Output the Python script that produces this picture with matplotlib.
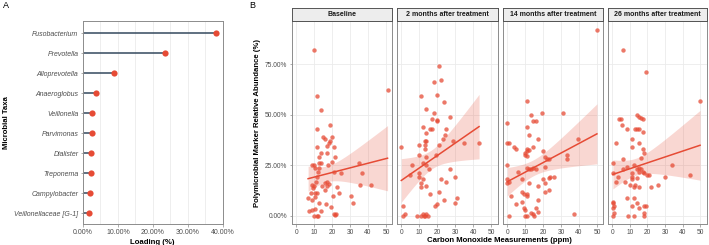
import numpy as np
import matplotlib.pyplot as plt
from matplotlib.ticker import FuncFormatter

plt.rcParams['font.family'] = ['Liberation Sans', 'DejaVu Sans']

RED = "#E64B35"
NAVY = "#34495E"
GRID = "#EBEBEB"
TXT = "#4D4D4D"

# panel A: loadings (%)
taxa = ["Fusobacterium", "Prevotella", "Alloprevotella", "Anaeroglobus", "Veillonella",
        "Parvimonas", "Dialister", "Treponema", "Campylobacter", "Veillonellaceae [G-1]"]
loading = [38.0, 23.4, 8.8, 3.6, 2.5, 2.5, 2.4, 2.3, 2.1, 1.7]

# panel B: CO (ppm) vs abundance (%) per timepoint
facet_names = ["Baseline", "2 months after treatment",
               "14 months after treatment", "26 months after treatment"]

base_co = [9.8, 50.9, 11.8, 13.8, 11.8, 18.8, 14.9, 15.9, 19.9, 18.1,
           19.0, 17.2, 11.8, 20.8, 13.8, 12.9, 17.2, 21.8, 19.7, 8.9,
           10.0, 12.7, 13.8, 17.9, 34.9, 36.9, 10.7, 12.0, 21.0, 25.1,
           11.8, 17.2, 16.2, 18.1, 11.1, 10.1, 14.6, 8.7, 35.8, 41.9,
           22.9, 9.4, 8.1, 10.7, 11.6, 15.9, 20.7, 23.8, 30.6, 31.9,
           6.6, 8.5, 10.5, 12.5, 16.8, 19.6, 7.0, 9.0, 10.3, 9.8,
           11.3, 12.0, 21.6, 21.2, 22.3, 14.0, 17.0, 12.9]
base_ab = [82.0, 62.0, 59.1, 52.1, 43.1, 45.0, 38.9, 38.1, 38.9, 36.1,
           37.1, 34.5, 34.0, 34.0, 30.9, 29.2, 30.9, 28.9, 26.7, 24.9,
           25.2, 25.9, 25.9, 24.9, 25.9, 21.0, 23.8, 21.8, 21.8, 21.0,
           19.3, 16.8, 16.3, 15.7, 16.7, 14.9, 14.7, 15.3, 15.0, 15.0,
           14.0, 13.5, 11.1, 11.4, 11.2, 12.7, 9.9, 11.1, 9.9, 6.1,
           8.9, 7.8, 9.1, 6.1, 5.8, 4.1, 2.1, 2.6, 3.1, 0.0,
           0.0, 0.0, 0.2, 0.8, 0.7, 2.1, 14.7, 23.4]

m2_co = [21.0, 22.1, 18.1, 11.1, 20.1, 24.0, 14.0, 18.1, 27.1, 17.2,
         20.1, 19.7, 12.2, 16.1, 17.0, 25.1, 14.0, 24.2, 23.1, 13.1,
         14.0, 28.8, 12.9, 10.0, 21.0, 34.9, 43.2, 0.0, 12.9, 10.0,
         19.2, 14.0, 12.0, 6.1, 14.0, 15.3, 27.1, 10.0, 5.0, 10.1,
         12.0, 29.9, 21.9, 25.1, 11.1, 11.1, 14.0, 15.9, 21.0, 30.8,
         24.0, 29.9, 20.1, 19.0, 0.9, 2.0, 0.9, 9.0, 11.0, 12.0,
         13.0, 14.0, 15.1, 12.5]
m2_ab = [74.1, 67.0, 66.0, 59.1, 59.9, 56.1, 53.0, 51.0, 49.0, 48.0,
         47.4, 47.0, 44.1, 43.1, 43.1, 43.1, 40.8, 39.9, 38.1, 37.1,
         37.1, 37.1, 35.0, 35.0, 35.0, 36.0, 36.0, 34.0, 33.2, 30.0,
         30.0, 29.0, 25.9, 24.9, 24.9, 22.9, 22.9, 21.0, 20.0, 19.3,
         18.0, 19.0, 18.0, 16.8, 16.0, 14.4, 14.9, 10.9, 11.9, 8.9,
         7.8, 6.1, 5.8, 5.0, 5.0, 1.0, 0.0, 0.0, 0.0, 1.0,
         0.0, 0.7, 0.0, 0.0]

m14_co = [50.0, 11.0, 19.1, 31.1, 13.1, 14.2, 16.2, 0.0, 11.0, 12.1,
          17.1, 39.2, 0.0, 1.1, 14.2, 4.0, 5.0, 11.0, 11.0, 10.0,
          10.0, 12.1, 20.0, 33.1, 33.1, 11.0, 21.0, 22.1, 23.2, 0.0,
          16.2, 11.2, 12.1, 13.1, 14.2, 21.1, 6.1, 0.0, 0.0, 1.1,
          8.1, 20.0, 23.2, 24.1, 26.1, 12.1, 21.1, 17.1, 23.2, 21.1,
          8.1, 9.2, 11.0, 11.0, 2.0, 17.1, 8.1, 5.0, 9.2, 10.1,
          16.2, 17.1, 13.1, 14.2, 15.1, 1.1, 10.1, 11.0, 37.1]
m14_ab = [92.1, 56.9, 50.8, 50.8, 49.8, 47.0, 47.0, 46.0, 43.9, 39.9,
          38.0, 38.0, 36.1, 36.1, 34.2, 34.2, 33.2, 33.0, 32.0, 31.0,
          30.0, 32.5, 32.0, 30.0, 27.9, 29.4, 29.0, 27.9, 27.9, 24.9,
          23.1, 23.8, 23.1, 23.1, 23.8, 23.9, 21.8, 18.2, 16.0, 16.8,
          18.0, 18.0, 18.6, 19.0, 19.0, 16.0, 16.0, 14.9, 12.7, 11.9,
          11.9, 10.9, 10.9, 9.9, 9.9, 7.8, 6.9, 5.9, 3.6, 2.8,
          3.6, 2.0, 1.2, 0.8, 0.0, 0.0, 0.0, 0.0, 1.0]

m26_co = [6.4, 19.2, 49.8, 14.1, 15.1, 16.1, 17.2, 4.0, 5.1, 5.5,
          8.2, 13.1, 15.1, 14.1, 17.2, 11.1, 2.4, 15.1, 11.1, 17.2,
          18.1, 16.1, 6.2, 0.4, 34.1, 12.2, 8.2, 6.2, 15.1, 14.1,
          16.2, 0.4, 3.5, 2.4, 11.1, 11.1, 11.1, 17.2, 18.1, 19.9,
          20.9, 15.1, 14.1, 7.1, 30.1, 44.2, 10.2, 12.2, 13.1, 15.1,
          22.1, 26.1, 8.2, 12.2, 14.1, 15.1, 11.1, 18.1, 19.2, 0.4,
          0.4, 1.3, 0.4, 1.3, 0.4, 9.1, 12.2, 18.1, 18.1]
m26_ab = [82.0, 71.0, 56.9, 49.8, 49.0, 48.2, 47.9, 48.0, 48.0, 44.9,
          43.0, 43.1, 43.1, 43.1, 41.6, 38.0, 36.0, 36.0, 34.0, 33.0,
          30.9, 28.7, 27.9, 25.9, 24.9, 24.9, 23.9, 23.3, 23.8, 23.1,
          22.9, 21.0, 19.3, 16.8, 21.0, 19.3, 18.3, 21.8, 21.0, 20.0,
          20.0, 21.5, 18.6, 16.8, 19.0, 20.0, 15.0, 14.0, 15.0, 14.0,
          14.0, 15.0, 8.9, 8.9, 6.1, 4.0, 5.0, 5.0, 5.0, 6.9,
          6.0, 5.0, 4.0, 1.2, 0.0, 0.0, 0.0, 1.2, 0.0]

facet_data = [(base_co, base_ab), (m2_co, m2_ab), (m14_co, m14_ab), (m26_co, m26_ab)]

W, H = 709, 245
fig = plt.figure(figsize=(W / 100, H / 100), dpi=100)


def px_axes(l, t, r, b):
    return fig.add_axes([l / W, 1 - b / H, (r - l) / W, (b - t) / H])


def style(ax, fs=4.8):
    for s in ax.spines.values():
        s.set_color("#8C8C8C")
        s.set_linewidth(0.7)
    ax.tick_params(length=1.8, width=0.5, color="#8C8C8C", labelsize=fs,
                   labelcolor=TXT, pad=1.5)
    ax.set_axisbelow(True)


pct = FuncFormatter(lambda v, p: "%.2f%%" % v)

# ---- panel A: lollipop
axA = px_axes(83, 21, 222.5, 224.3)
ypos = np.arange(len(taxa))
axA.hlines(ypos, 0, loading, color=NAVY, lw=1.1, zorder=2)
axA.scatter(loading, ypos, s=20, color=RED, zorder=3, linewidths=0, clip_on=False)
axA.set_xlim(0, 40)
axA.set_ylim(len(taxa) - 0.45, -0.6)
axA.set_xticks([0, 10, 20, 30, 40])
axA.set_xticks([5, 15, 25, 35], minor=True)
axA.tick_params(which="minor", length=0)
axA.grid(axis="x", which="both", color=GRID, lw=0.6)
axA.xaxis.set_major_formatter(pct)
axA.set_yticks(ypos)
axA.set_yticklabels(taxa, style="italic")
style(axA, fs=5.0)
axA.set_xlabel("Loading (%)", fontsize=5.6, fontweight="bold", labelpad=2)
axA.set_ylabel("Microbial Taxa", fontsize=5.6, fontweight="bold")
axA.yaxis.set_label_coords((10 - 83) / 139.5, 0.5)
fig.text(3 / W, 1 - 6 / H, "A", fontsize=6.5, va="center", ha="left")
fig.text(249 / W, 1 - 6 / H, "B", fontsize=6.5, va="center", ha="left")

# ---- panel B: faceted scatter + lm fit
facet_x = [(291.7, 392.3), (396.7, 497.7), (502.7, 603.3), (607.7, 706.7)]
t975 = 1.99
for i, ((l, r), name, (co, ab)) in enumerate(zip(facet_x, facet_names, facet_data)):
    ax = px_axes(l, 20.7, r, 224.3)
    x = np.array(co)
    y = np.array(ab)
    ax.scatter(x, y, s=10, color=RED, alpha=0.75, linewidths=0, zorder=3)
    b1, b0 = np.polyfit(x, y, 1)
    n = len(x)
    resid = y - (b0 + b1 * x)
    s = np.sqrt(np.sum(resid ** 2) / (n - 2))
    xs = np.linspace(x.min(), x.max(), 80)
    se = s * np.sqrt(1 / n + (xs - x.mean()) ** 2 / np.sum((x - x.mean()) ** 2))
    fit = b0 + b1 * xs
    ax.fill_between(xs, fit - t975 * se, fit + t975 * se, color=RED, alpha=0.22,
                    linewidth=0, zorder=2)
    ax.plot(xs, fit, color=RED, lw=1.1, zorder=4)
    ax.set_xlim(-2.55, 53.55)
    ax.set_ylim(-4.3, 96.5)
    ax.set_xticks([0, 10, 20, 30, 40, 50])
    ax.set_yticks([0, 25, 50, 75])
    ax.grid(color=GRID, lw=0.6)
    style(ax)
    if i == 0:
        ax.yaxis.set_major_formatter(pct)
        ax.set_ylabel("Polymicrobial Marker Relative Abundance (%)", fontsize=5.6,
                      fontweight="bold", labelpad=3)
    else:
        ax.tick_params(axis="y", length=0, labelleft=False)

    st = px_axes(l, 8.3, r, 20.7)
    st.set_facecolor("#EDEDED")
    st.set_xticks([])
    st.set_yticks([])
    for sp in st.spines.values():
        sp.set_color("#555555")
        sp.set_linewidth(0.7)
    st.text(0.5, 0.5, name, ha="center", va="center", fontsize=5.0,
            fontweight="bold", color="#1A1A1A", transform=st.transAxes)

fig.text(499 / W, 1 - 240.5 / H, "Carbon Monoxide Measurements (ppm)", fontsize=5.6,
         fontweight="bold", ha="center", va="center")

fig.savefig("out.png", dpi=100)
